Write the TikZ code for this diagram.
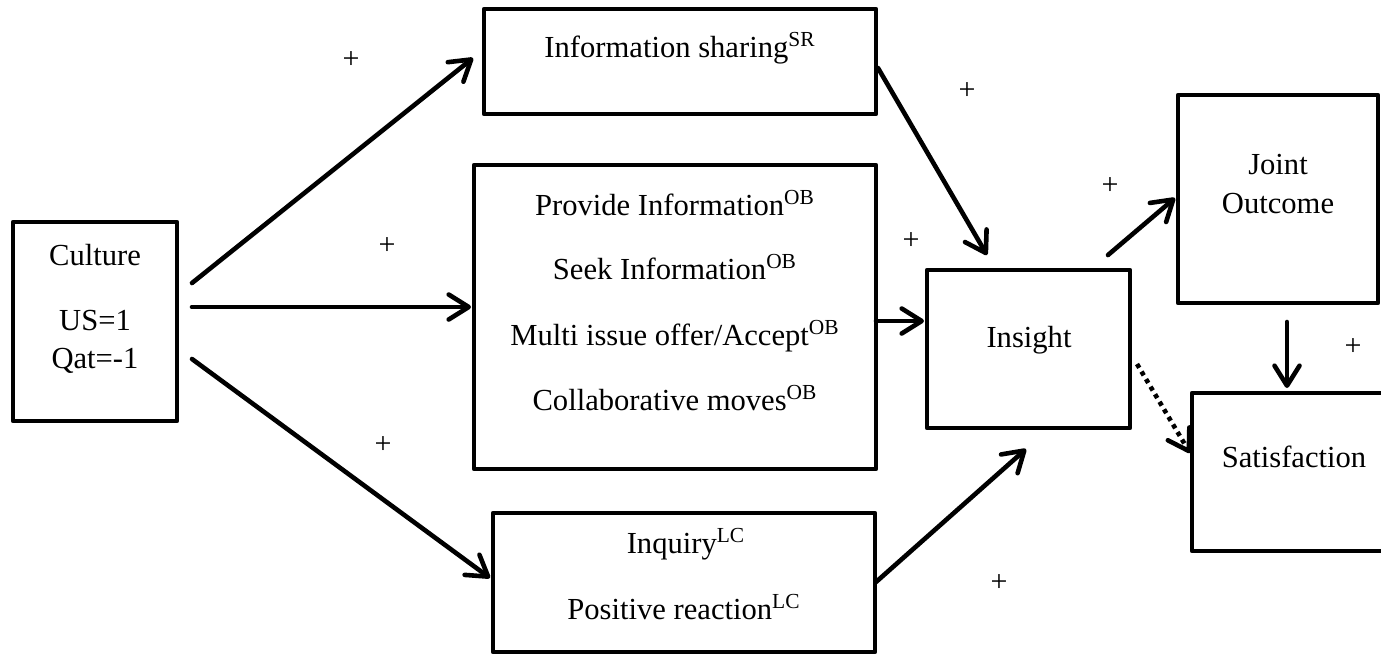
\documentclass[tikz,border=0pt]{standalone}
\usepackage{fontspec}
\setmainfont{Liberation Serif}
\usetikzlibrary{arrows.meta}
\begin{document}
\begin{tikzpicture}[x=0.5pt,y=-0.5pt,
  box/.style={draw, line width=2.2pt, line join=round, inner sep=0pt, outer sep=0pt},
  conn/.style={line width=2.3pt, line cap=round, -{Straight Barb[length=10pt,width=12.5pt,line cap=round,line join=round]}},
  dotconn/.style={conn, line cap=butt, dash pattern=on 2.2pt off 2.2pt},
  txt/.style={font=\fontsize{15.3}{18}\selectfont, inner sep=0pt, anchor=base},
  sign/.style={font=\fontsize{15}{18}\selectfont, inner sep=0pt, anchor=center}
]
\useasboundingbox (0,0) rectangle (1381,655);

% boxes
\node[box, minimum width=82pt, minimum height=99.5pt] (culture) at (95,321.5) {};
\node[box, minimum width=196pt, minimum height=52.5pt] (share) at (680,61.5) {};
\node[box, minimum width=201pt, minimum height=152pt] (moves) at (675,317) {};
\node[box, minimum width=191pt, minimum height=69.5pt] (inquiry) at (684,582.5) {};
\node[box, minimum width=101.5pt, minimum height=79pt] (insight) at (1028.5,349) {};
\node[box, minimum width=100pt, minimum height=104pt] (joint) at (1278,199) {};
\node[box, minimum width=104pt, minimum height=79pt] (satis) at (1296,472) {};

% texts
\node[txt] (t1) at (95,265) {Culture};
\node[txt] (t2) at (95,330) {US=1};
\node[txt] (t3) at (95,368) {Qat=-1};
\node[txt] (t4) at (680,57) {Information sharing\textsuperscript{SR}};
\node[txt] (t5) at (675,215) {Provide Information\textsuperscript{OB}};
\node[txt] (t6) at (675,279) {Seek Information\textsuperscript{OB}};
\node[txt] (t7) at (675,345) {Multi issue offer/Accept\textsuperscript{OB}};
\node[txt] (t8) at (675,410) {Collaborative moves\textsuperscript{OB}};
\node[txt] (t9) at (686,553) {Inquiry\textsuperscript{LC}};
\node[txt] (t10) at (684,619) {Positive reaction\textsuperscript{LC}};
\node[txt] (t11) at (1029,347) {Insight};
\node[txt] (t12) at (1278,174) {Joint};
\node[txt] (t13) at (1278,213) {Outcome};
\node[txt] (t14) at (1294,467) {Satisfaction};

% connector end points
\coordinate (c1s) at (192,283);
\coordinate (c1e) at (473,58);
\coordinate (c2s) at (192,307);
\coordinate (c2e) at (471,307);
\coordinate (c3s) at (192,359);
\coordinate (c3e) at (490,578);
\coordinate (c4s) at (878,68);
\coordinate (c4e) at (987,255);
\coordinate (c5s) at (876,321);
\coordinate (c5e) at (924,321);
\coordinate (c6s) at (876,582);
\coordinate (c6e) at (1026,449);
\coordinate (c7s) at (1108,255);
\coordinate (c7e) at (1175,198);
\coordinate (c8s) at (1287,322);
\coordinate (c8e) at (1287,388);
\coordinate (c9s) at (1137,364);
\coordinate (c9e) at (1190,453);

\draw[conn] (c1s) -- (c1e);
\draw[conn] (c2s) -- (c2e);
\draw[conn] (c3s) -- (c3e);
\draw[conn] (c4s) -- (c4e);
\draw[conn] (c5s) -- (c5e);
\draw[conn] (c6s) -- (c6e);
\draw[conn] (c7s) -- (c7e);
\draw[conn] (c8s) -- (c8e);
\draw[dotconn] (c9s) -- (c9e);

% signs
\node[sign] (p1) at (351,60) {+};
\node[sign] (p2) at (967,91) {+};
\node[sign] (p3) at (387,246) {+};
\node[sign] (p4) at (1110,186) {+};
\node[sign] (p5) at (911,241) {+};
\node[sign] (p6) at (1353,347) {+};
\node[sign] (p7) at (383,445) {+};
\node[sign] (p8) at (999,583) {+};
\end{tikzpicture}
\end{document}
